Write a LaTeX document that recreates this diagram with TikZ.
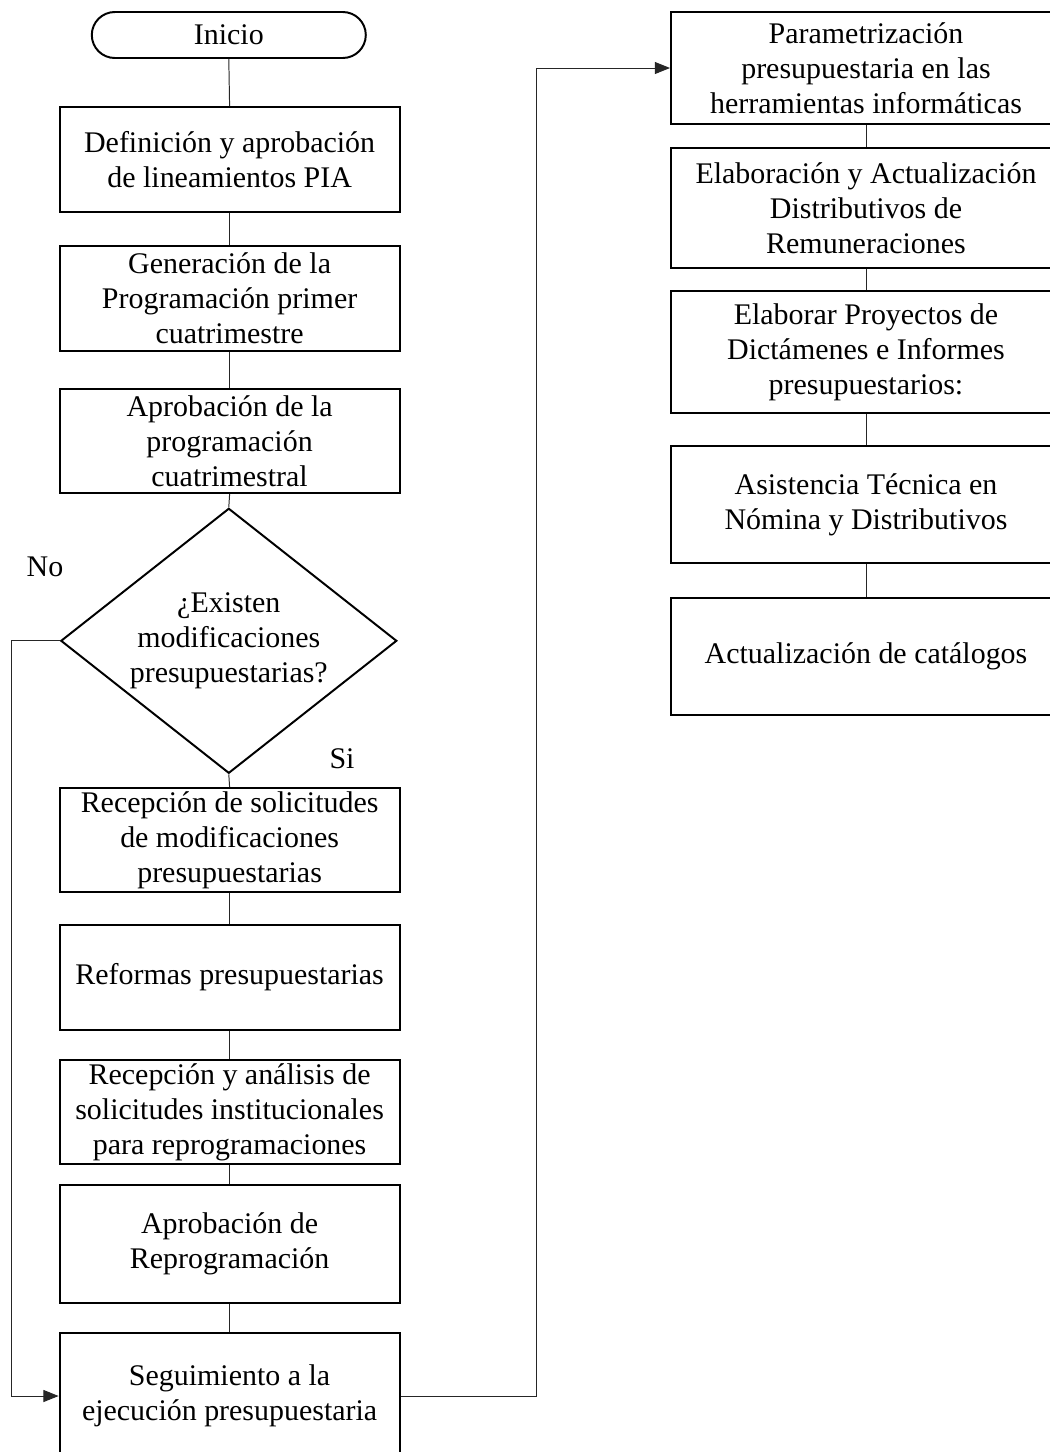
\documentclass[tikz,border=0pt]{standalone}
\usepackage{fontspec}
\setmainfont{Liberation Serif}
\usetikzlibrary{arrows.meta,shapes.geometric}

\tikzset{
  proc/.style={draw, line width=1.4pt, rectangle, align=center, inner sep=0pt,
    minimum width=8.5cm},
  procR/.style={proc, minimum width=9.75cm},
  link/.style={draw=black!85, line width=0.7pt},
  flow/.style={link, -{Triangle[length=0.38cm, width=0.3cm]}}
}

\begin{document}
\begin{tikzpicture}[font=\fontsize{21.3}{25}\selectfont]

  \useasboundingbox (0,0) rectangle (26.25,-36.3);
  \clip (0,0) rectangle (26.25,-36.3);

  % ---- left column ----
  \node[draw, line width=1.4pt, rounded corners=0.575cm, minimum width=6.85cm,
    minimum height=1.15cm, inner sep=0pt] (ini) at (5.72,-0.875) {Inicio};
  \node[proc, minimum height=2.625cm] (b1) at (5.74,-3.99)
    {Definición y aprobación\\de lineamientos PIA};
  \node[proc, minimum height=2.625cm] (b2) at (5.74,-7.46)
    {Generación de la\\Programación primer\\cuatrimestre};
  \node[proc, minimum height=2.6cm] (b3) at (5.74,-11.03)
    {Aprobación de la\\programación\\cuatrimestral};
  \node[draw, line width=1.4pt, diamond, aspect=1.27, inner sep=0pt,
    minimum width=8.4cm, minimum height=6.625cm, align=center] (dia) at (5.72,-16.02)
    {¿Existen\\modificaciones\\presupuestarias?};
  \node (no) at (1.125,-14.175) {No};
  \node (si) at (8.55,-18.98) {Si};
  \node[proc, minimum height=2.6cm] (b4) at (5.74,-21.0)
    {Recepción de solicitudes\\de modificaciones\\presupuestarias};
  \node[proc, minimum height=2.625cm] (b5) at (5.74,-24.44)
    {Reformas presupuestarias};
  \node[proc, minimum height=2.6cm] (b6) at (5.74,-27.8)
    {Recepción y análisis de\\solicitudes institucionales\\para reprogramaciones};
  \node[proc, minimum height=2.95cm] (b7) at (5.74,-31.1)
    {Aprobación de\\Reprogramación};
  \node[proc, minimum height=3.15cm] (b8) at (5.74,-34.9)
    {Seguimiento a la\\ejecución presupuestaria};

  % ---- right column ----
  \node[procR, minimum height=2.8cm] (r1) at (21.65,-1.7)
    {Parametrización\\presupuestaria en las\\herramientas informáticas};
  \node[procR, minimum height=3.0cm] (r2) at (21.65,-5.2)
    {Elaboración y Actualización\\Distributivos de\\Remuneraciones};
  \node[procR, minimum height=3.05cm] (r3) at (21.65,-8.8)
    {Elaborar Proyectos de\\Dictámenes e Informes\\presupuestarios:};
  \node[procR, minimum height=2.925cm] (r4) at (21.65,-12.61)
    {Asistencia Técnica en\\Nómina y Distributivos};
  \node[procR, minimum height=2.925cm] (r5) at (21.65,-16.41)
    {Actualización de catálogos};

  % ---- plain links ----
  \foreach \a/\b in {ini/b1, b1/b2, b2/b3, b3/dia, dia/b4, b4/b5, b5/b6, b6/b7, b7/b8,
                     r1/r2, r2/r3, r3/r4, r4/r5} {
    \draw[link] (\a.south) -- (\b.north);
  }

  % ---- "No" branch and jump to the right column ----
  \draw[flow] (dia.west) -- ++(-1.2,0) |- (b8.west);
  \draw[flow] (b8.east) -- ++(3.4,0) |- (r1.west);

\end{tikzpicture}
\end{document}
